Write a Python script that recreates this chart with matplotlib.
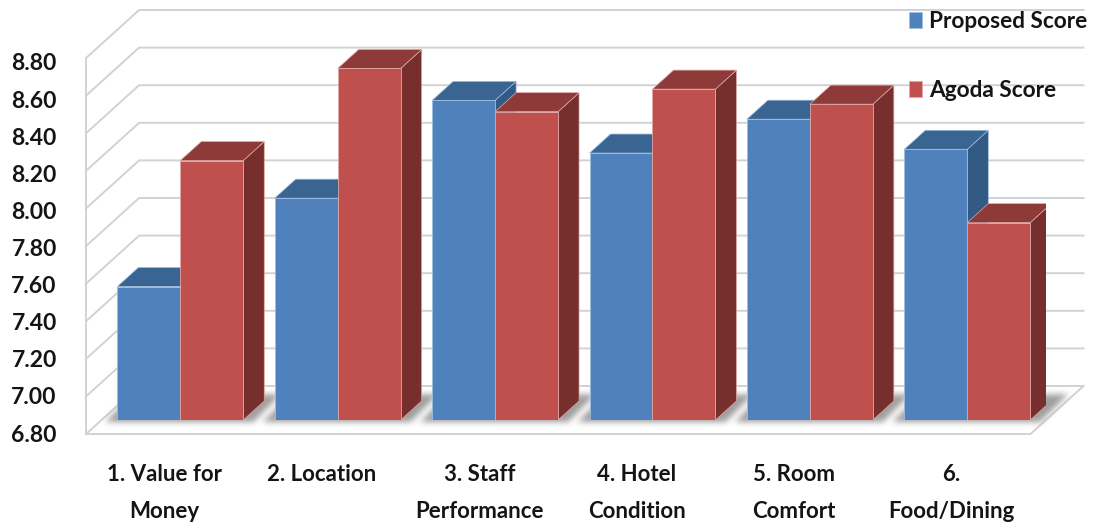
# -*- coding: utf-8 -*-
import matplotlib
matplotlib.use("Agg")
import matplotlib.pyplot as plt
import numpy as np
from matplotlib.patches import Patch, Polygon

plt.rcParams['font.family'] = ['Lato', 'DejaVu Sans']
plt.rcParams['font.weight'] = 'bold'

categories = ["1. Value for\nMoney", "2. Location", "3. Staff\nPerformance",
              "4. Hotel\nCondition", "5. Room\nComfort", "6.\nFood/Dining"]
proposed_score = [7.51, 7.98, 8.50, 8.22, 8.40, 8.24]
agoda_score = [8.18, 8.67, 8.44, 8.56, 8.48, 7.85]
y_ticks = [6.8, 7.0, 7.2, 7.4, 7.6, 7.8, 8.0, 8.2, 8.4, 8.6, 8.8]

W, H = 1094, 525
PX_X = 944.4   # px for the whole x range
PX_Y = 376.0   # px for the whole y range
Y0, Y1 = 6.8, 8.8
N = len(categories)
dx = N / PX_X          # one pixel in data units
dy = (Y1 - Y0) / PX_Y

GRID = '#d2d2d2'
TEXT = '#141414'
BLUE = ('#4f81bd', '#3a6491', '#325a85', '#9dbde0')
RED = ('#c0504d', '#8e3a38', '#772f2d', '#e0a8a6')
BAR_W = 0.4
SHADOW_GREY = 0.62


def soft(img, dpi, sigma=3.0):
    # gaussian blur of the alpha only, so the shadow edge does not go dark
    pad = int(3 * sigma)
    out = np.pad(img, ((pad, pad), (pad, pad), (0, 0)))
    t = np.arange(-pad, pad + 1)
    kernel = np.exp(-t ** 2 / (2 * sigma ** 2))
    kernel /= kernel.sum()
    alpha = out[:, :, 3]
    for axis in (0, 1):
        alpha = np.apply_along_axis(lambda m: np.convolve(m, kernel, mode='same'), axis, alpha)
    out[:, :, 0:3] = SHADOW_GREY
    out[:, :, 3] = alpha
    return out, -pad, -pad


def box(ax, x, v, colors):
    front, top, side, edge = colors
    dep_x, dep_y = 21 * dx, 19 * dy
    x0, x1 = x - BAR_W / 2, x + BAR_W / 2
    ax.add_patch(Polygon([(x1, Y0), (x1 + dep_x, Y0 + dep_y), (x1 + dep_x, v + dep_y), (x1, v)],
                         fc=side, ec=edge, lw=0.5, zorder=5))
    ax.add_patch(Polygon([(x0, v), (x1, v), (x1 + dep_x, v + dep_y), (x0 + dep_x, v + dep_y)],
                         fc=top, ec=edge, lw=0.5, zorder=5))
    ax.bar(x, v - Y0, BAR_W, bottom=Y0, color=front, edgecolor=edge, lw=0.6, zorder=5)


fig = plt.figure(figsize=(W / 100, H / 100), dpi=100)
ax = fig.add_axes([101.6 / W, 105 / H, PX_X / W, PX_Y / H])
ax.set_xlim(0, N)
ax.set_ylim(Y0, Y1)
ax.axis('off')

# walls and floor
fx, fy = -15.5 * dx, -14 * dy
bx, by = 37.5 * dx, 34 * dy
for v in y_ticks:
    ax.plot([fx, bx, N + bx], [v + fy, v + by, v + by], color=GRID, lw=1.4,
            zorder=1, clip_on=False, solid_joinstyle='miter')
ax.plot([fx, fx], [Y0 + fy, Y1 + fy], color=GRID, lw=1.4, zorder=1, clip_on=False)
ax.plot([fx, N + fx, N + bx], [Y0 + fy, Y0 + fy, Y0 + by], color=GRID, lw=1.4, zorder=1, clip_on=False)

# soft shadow on the floor
for i in range(N):
    x0, x1 = i + 0.5 - BAR_W, i + 0.5 + BAR_W
    shadow = Polygon([(x0 - 12 * dx, Y0 - 2 * dy), (x1 + 10 * dx, Y0 - 2 * dy),
                      (x1 + 38 * dx, Y0 + 26 * dy), (x0 + 12 * dx, Y0 + 22 * dy)],
                     fc='#a0a0a0', ec='none', zorder=2, clip_on=False)
    shadow.set_agg_filter(soft)
    ax.add_patch(shadow)

for i in range(N):
    box(ax, i + 0.5 - BAR_W / 2, proposed_score[i], BLUE)
    box(ax, i + 0.5 + BAR_W / 2, agoda_score[i], RED)

# axis labels live on their own frameless axes, in the front plane
lab = fig.add_axes([86 / W, (525 - 433) / H, PX_X / W, 371 / H])
lab.patch.set_alpha(0)
lab.set_xlim(0, N)
lab.set_ylim(Y0, Y1)
for s in lab.spines.values():
    s.set_visible(False)
lab.set_yticks(y_ticks, ['%.2f' % v for v in y_ticks], fontsize=16.5, color=TEXT)
lab.set_xticks(np.arange(N) + 0.5, categories, fontsize=16, color=TEXT, linespacing=1.95, va='top')
lab.tick_params(axis='y', length=0, pad=21)
lab.tick_params(axis='x', length=0, pad=22.5)

handles = [Patch(fc=BLUE[0], ec=BLUE[3], lw=0.4), Patch(fc=RED[0], ec=RED[3], lw=0.4)]
fig.legend(handles, ['Proposed Score', 'Agoda Score'], loc='upper left',
           bbox_to_anchor=(900 / W, 1 - 2 / H), frameon=False, fontsize=16.3,
           handlelength=0.58, handleheight=0.72, handletextpad=0.31, labelspacing=2.12,
           labelcolor=TEXT, borderpad=0.4, borderaxespad=0, alignment='left')

fig.savefig('out.png', dpi=100)
